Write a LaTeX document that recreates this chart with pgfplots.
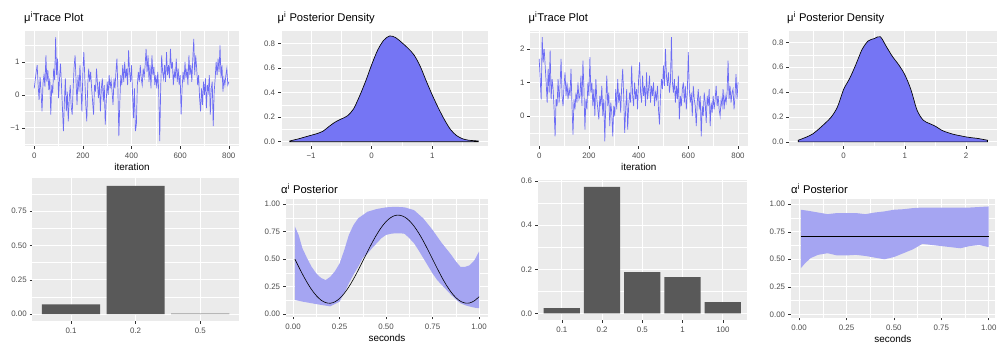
\documentclass[border=0pt]{standalone}
\usepackage{fontspec}
\setmainfont{Liberation Sans}
\usepackage{pgfplots}
\pgfplotsset{compat=1.18}

\definecolor{panelbg}{HTML}{EBEBEB}
\definecolor{tickgrey}{HTML}{333333}
\definecolor{labgrey}{HTML}{4D4D4D}
\definecolor{traceblue}{HTML}{6C6CF5}
\definecolor{densfill}{HTML}{7575F4}
\definecolor{bandfill}{HTML}{A5A5F2}
\definecolor{bargrey}{HTML}{595959}

\pgfplotsset{
  gg/.style={
    scale only axis, clip=true,
    /pgf/number format/assume math mode=true,
    axis background/.style={fill=panelbg},
    axis line style={draw=none},
    grid=both,
    major grid style={draw=white, line width=0.8pt},
    minor grid style={draw=white, line width=0.4pt},
    tick align=outside,
    xtick pos=left, ytick pos=left,
    major tick length=2.6pt, minor tick length=0pt,
    tick style={draw=tickgrey, line width=0.5pt},
    tick label style={font=\fontsize{7.9}{9}\selectfont, text=labgrey},
    xticklabel style={inner sep=0pt, yshift=-4.4pt},
    yticklabel style={inner sep=0pt, xshift=-2.8pt},
    xlabel style={at={(axis description cs:0.5,0)}, anchor=base, yshift=-25pt,
      inner sep=0pt, font=\fontsize{9.9}{11}\selectfont},
  },
}
\tikzset{ttl/.style={anchor=base west, inner sep=0pt, font=\fontsize{11.2}{13}\selectfont}}

\begin{document}
\begin{tikzpicture}[x=1pt,y=1pt]
\useasboundingbox (0,0) rectangle (997,343);

% ---------- chain 1: trace of mu ----------
\node[ttl] at (24,321.3) {μ\textsuperscript{i}Trace Plot};
\begin{axis}[gg, at={(25pt,197pt)}, width=214pt, height=115pt,
  xmin=-38, xmax=842, ymin=-1.55, ymax=1.94,
  xtick={0,200,400,600,800}, xticklabels={0,200,400,600,800},
  minor xtick={100,300,500,700},
  ytick={-1,0,1}, yticklabels={−1,0,1}, minor ytick={-1.5,-0.5,0.5,1.5},
  xlabel={iteration}]
\addplot[traceblue, line width=0.7pt] table[x expr=4*\coordindex, y=v, row sep=\\] {
v\\ 0.20\\ 0.45\\ 0.70\\ 0.90\\ 0.30\\ -0.15\\ 0.55\\ 0.10\\ -0.50\\ 0.35\\
0.60\\ 0.25\\ 1.20\\ 0.40\\ 0.75\\ 0.15\\ 0.50\\ -0.60\\ 0.30\\ 0.05\\
0.80\\ 0.45\\ 1.75\\ 0.60\\ 1.10\\ -0.10\\ 0.50\\ 0.95\\ 0.30\\ -0.40\\
-1.10\\ -0.20\\ 0.50\\ -0.50\\ 0.10\\ -0.80\\ -0.10\\ 0.30\\ -0.35\\ -0.60\\
0.20\\ 0.85\\ 1.20\\ 0.40\\ -0.30\\ 0.60\\ 0.10\\ 0.90\\ 0.20\\ -0.50\\
0.70\\ 1.30\\ 0.50\\ -0.30\\ -0.80\\ 0.30\\ 0.80\\ 0.40\\ 0.70\\ 0.20\\
-0.20\\ -0.60\\ 0.30\\ 0.10\\ 0.80\\ 0.35\\ -0.10\\ 0.40\\ -0.50\\ 0.20\\
0.50\\ -0.20\\ 0.30\\ -0.90\\ -0.20\\ 0.40\\ 0.00\\ 0.60\\ 0.20\\ 0.45\\
0.10\\ -0.30\\ 0.50\\ 0.20\\ 0.70\\ 1.10\\ 0.20\\ -1.25\\ -0.20\\ 0.60\\
0.30\\ 0.90\\ 0.40\\ 1.00\\ 0.50\\ 0.80\\ 0.30\\ 1.35\\ 0.70\\ 0.40\\
0.90\\ 0.10\\ -0.70\\ 0.20\\ -1.10\\ -0.90\\ 0.30\\ 0.70\\ 0.40\\ 0.90\\
0.50\\ 0.30\\ 0.80\\ 0.55\\ 0.90\\ 1.40\\ 0.70\\ 1.20\\ 0.40\\ 0.90\\
0.20\\ 1.20\\ 0.60\\ 0.85\\ 0.30\\ 0.60\\ 0.20\\ 0.70\\ 0.10\\ -1.40\\
0.20\\ 1.20\\ 0.70\\ 0.50\\ 0.90\\ 0.40\\ 1.30\\ 0.60\\ 0.90\\ 0.50\\
1.40\\ 0.80\\ 1.00\\ 0.30\\ 0.70\\ 0.50\\ 1.10\\ 0.40\\ 0.80\\ 0.30\\
0.60\\ -0.60\\ 0.20\\ 0.70\\ 0.40\\ 1.00\\ 0.50\\ 0.80\\ 0.30\\ 1.20\\
0.60\\ 0.90\\ 0.40\\ 1.10\\ 1.70\\ 0.60\\ 1.20\\ 0.80\\ 0.30\\ 0.60\\
-0.10\\ -0.50\\ 0.20\\ -0.30\\ 0.40\\ 0.00\\ 0.50\\ -0.40\\ 0.30\\ 0.10\\
0.60\\ -0.60\\ 0.20\\ 0.40\\ -0.95\\ 0.10\\ 0.50\\ 1.00\\ 0.60\\ 1.10\\
0.70\\ 1.50\\ 0.50\\ 0.90\\ 0.10\\ 0.50\\ 0.30\\ 0.60\\ 0.80\\ 0.30\\
0.40\\
};
\end{axis}

% ---------- chain 1: posterior density of mu ----------
\node[ttl] at (277.5,321.3) {μ\textsuperscript{i} Posterior Density};
\begin{axis}[gg, at={(280.7pt,197pt)}, width=207.3pt, height=115pt,
  xmin=-1.5, xmax=1.92, ymin=-0.035, ymax=0.9,
  xtick={-1,0,1}, xticklabels={−1,0,1}, minor xtick={-1.5,-0.5,0.5,1.5},
  ytick={0,0.2,0.4,0.6,0.8}, yticklabels={0.0,0.2,0.4,0.6,0.8},
  minor ytick={0.1,0.3,0.5,0.7}]
\addplot[fill=densfill, draw=black, line width=0.65pt, smooth] coordinates {
(-1.35,0.006) (-1.2,0.024) (-1.1,0.038) (-1.0,0.052) (-0.9,0.066) (-0.8,0.086)
(-0.7,0.125) (-0.6,0.160) (-0.5,0.185) (-0.4,0.210) (-0.3,0.265) (-0.2,0.370)
(-0.1,0.490) (0.0,0.625) (0.1,0.745) (0.2,0.825) (0.3,0.860) (0.4,0.845)
(0.5,0.805) (0.6,0.760) (0.7,0.705) (0.8,0.615) (0.9,0.495) (1.0,0.380)
(1.1,0.275) (1.2,0.180) (1.3,0.100) (1.4,0.050) (1.5,0.024) (1.6,0.012)
(1.76,0.006)} \closedcycle;
\end{axis}

% ---------- chain 2: trace of mu ----------
\node[ttl] at (528.5,321.3) {μ\textsuperscript{i}Trace Plot};
\begin{axis}[gg, at={(530pt,197pt)}, width=217.7pt, height=115pt,
  xmin=-37, xmax=839, ymin=-0.89, ymax=2.53,
  xtick={0,200,400,600,800}, xticklabels={0,200,400,600,800},
  minor xtick={100,300,500,700},
  ytick={0,1,2}, yticklabels={0,1,2}, minor ytick={-0.5,0.5,1.5,2.5},
  xlabel={iteration}]
\addplot[traceblue, line width=0.7pt] table[x expr=4*\coordindex, y=v, row sep=\\] {
v\\ 1.70\\ 1.10\\ 0.50\\ 2.35\\ 1.60\\ 2.00\\ 1.50\\ 1.00\\ 0.40\\ 1.40\\
0.70\\ 1.95\\ 0.50\\ 1.10\\ 0.80\\ 0.20\\ -0.60\\ 0.50\\ 0.30\\ 1.10\\
0.40\\ 0.90\\ 1.70\\ 0.60\\ 0.30\\ 0.90\\ 1.30\\ 0.60\\ 1.00\\ 0.50\\
0.80\\ 0.60\\ 1.40\\ 0.30\\ -0.55\\ 0.50\\ 0.20\\ 0.70\\ 0.40\\ 1.00\\
0.50\\ 0.60\\ 1.20\\ 0.30\\ 1.65\\ 0.80\\ -0.40\\ 0.50\\ 0.20\\ 1.00\\
0.60\\ 1.75\\ 0.70\\ 1.00\\ 0.30\\ 0.80\\ 0.00\\ 1.10\\ 0.50\\ 0.20\\
-0.10\\ 0.60\\ 0.30\\ 0.90\\ 0.00\\ 0.50\\ -0.75\\ 0.40\\ 1.20\\ 0.30\\
0.70\\ -0.30\\ 0.40\\ 0.10\\ -0.60\\ 0.30\\ 0.00\\ 0.80\\ 0.20\\ 1.10\\
0.40\\ 0.70\\ 0.10\\ 0.90\\ 1.40\\ 0.60\\ -0.50\\ 0.20\\ 0.80\\ -0.40\\
0.30\\ 0.70\\ 0.40\\ 1.50\\ 0.60\\ 0.30\\ 1.00\\ 0.50\\ 0.80\\ 0.20\\
1.10\\ 1.60\\ 0.70\\ 0.40\\ 1.20\\ 0.60\\ 0.90\\ 0.30\\ 1.30\\ 0.50\\
0.80\\ 1.20\\ 0.40\\ 0.90\\ 0.60\\ 1.00\\ 0.30\\ 0.70\\ 0.50\\ 0.90\\
0.20\\ -0.25\\ 0.60\\ 1.10\\ 0.80\\ 1.50\\ 0.90\\ 2.00\\ 1.20\\ 0.90\\
1.30\\ 0.70\\ 1.00\\ 2.35\\ 1.00\\ 0.70\\ 1.10\\ 0.40\\ 0.90\\ 0.50\\
1.20\\ -0.10\\ 0.60\\ 0.30\\ 0.80\\ 1.00\\ 0.40\\ 0.90\\ 0.20\\ 0.70\\
1.90\\ 0.80\\ 0.40\\ 0.70\\ 0.00\\ 0.90\\ 0.50\\ 0.30\\ -0.30\\ 0.40\\
0.80\\ 0.20\\ 0.60\\ -0.60\\ 0.30\\ 0.00\\ 0.70\\ 0.40\\ -0.20\\ 0.60\\
0.30\\ 0.80\\ -0.30\\ 0.40\\ 0.10\\ 0.60\\ 0.20\\ 0.50\\ 0.90\\ 0.30\\
0.60\\ 0.20\\ 0.00\\ 0.50\\ 0.30\\ 0.80\\ 0.20\\ 0.60\\ 0.40\\ 0.70\\
1.65\\ 0.50\\ 0.90\\ 0.40\\ 0.70\\ 0.80\\ 0.20\\ 0.60\\ 1.25\\ 0.50\\
1.00\\
};
\end{axis}

% ---------- chain 2: posterior density of mu ----------
\node[ttl] at (787,321.3) {μ\textsuperscript{i} Posterior Density};
\begin{axis}[gg, at={(789pt,197pt)}, width=207.7pt, height=115pt,
  xmin=-0.89, xmax=2.5, ymin=-0.033, ymax=0.891,
  xtick={0,1,2}, xticklabels={0,1,2}, minor xtick={-0.5,0.5,1.5},
  ytick={0,0.2,0.4,0.6,0.8}, yticklabels={0.0,0.2,0.4,0.6,0.8},
  minor ytick={0.1,0.3,0.5,0.7}]
\addplot[fill=densfill, draw=black, line width=0.65pt, smooth] coordinates {
(-0.74,0.013) (-0.6,0.040) (-0.5,0.065) (-0.4,0.105) (-0.3,0.150) (-0.2,0.200)
(-0.1,0.280) (0.0,0.420) (0.1,0.510) (0.2,0.620) (0.3,0.740) (0.4,0.810)
(0.5,0.830) (0.6,0.845) (0.7,0.765) (0.8,0.685) (0.9,0.620) (1.0,0.540)
(1.1,0.420) (1.2,0.255) (1.3,0.175) (1.4,0.148) (1.5,0.126) (1.6,0.094)
(1.7,0.075) (1.8,0.060) (1.9,0.050) (2.0,0.040) (2.1,0.033) (2.2,0.027)
(2.35,0.013)} \closedcycle;
\end{axis}

% ---------- chain 1: posterior probabilities ----------
\begin{axis}[gg, at={(32.3pt,22pt)}, width=206.7pt, height=142.7pt,
  xmin=0.4, xmax=3.6, ymin=-0.05, ymax=0.99,
  xtick={1,2,3}, xticklabels={0.1,0.2,0.5},
  ytick={0,0.25,0.5,0.75}, yticklabels={0.00,0.25,0.50,0.75},
  minor ytick={0.125,0.375,0.625,0.875}]
\addplot[ybar, bar width=0.9, bar shift=0pt, fill=bargrey, draw=none]
  coordinates {(1,0.071) (2,0.934) (3,0.003)};
\end{axis}

% ---------- chain 1: alpha posterior ----------
\node[ttl] at (281,149.6) {α\textsuperscript{i} Posterior};
\begin{axis}[gg, at={(285.7pt,26.3pt)}, width=202.6pt, height=117.4pt,
  xmin=-0.0395, xmax=1.0495, ymin=-0.022, ymax=1.043,
  xtick={0,0.25,0.5,0.75,1}, xticklabels={0.00,0.25,0.50,0.75,1.00},
  minor xtick={0.125,0.375,0.625,0.875},
  ytick={0,0.25,0.5,0.75,1}, yticklabels={0.00,0.25,0.50,0.75,1.00},
  minor ytick={0.125,0.375,0.625,0.875},
  xlabel={seconds}]
% credible band: upper edge left to right, then lower edge right to left
\addplot[fill=bandfill, draw=none] coordinates {
(0.01,0.795) (0.03,0.72) (0.05,0.60) (0.075,0.51) (0.1,0.43) (0.125,0.37)
(0.15,0.33) (0.175,0.31) (0.2,0.34) (0.225,0.39) (0.25,0.46) (0.275,0.58)
(0.3,0.72) (0.325,0.81) (0.35,0.87) (0.4,0.93) (0.45,0.955) (0.5,0.97)
(0.55,0.975) (0.6,0.97) (0.65,0.945) (0.7,0.87) (0.75,0.765) (0.8,0.645)
(0.85,0.54) (0.875,0.48) (0.9,0.43) (0.925,0.43) (0.95,0.445) (0.975,0.49)
(1.0,0.57)
(1.0,0.055) (0.975,0.06) (0.95,0.07) (0.925,0.082) (0.9,0.10) (0.875,0.135)
(0.85,0.175) (0.825,0.22) (0.8,0.265) (0.775,0.31) (0.75,0.37) (0.725,0.44)
(0.7,0.51) (0.675,0.58) (0.65,0.645) (0.625,0.69) (0.6,0.73) (0.575,0.735)
(0.55,0.735) (0.525,0.73) (0.5,0.72) (0.475,0.69) (0.45,0.645) (0.425,0.60)
(0.4,0.55) (0.375,0.51) (0.35,0.43) (0.325,0.36) (0.3,0.28) (0.275,0.19)
(0.25,0.115) (0.2,0.072) (0.15,0.085) (0.1,0.10) (0.05,0.115) (0.01,0.13)
} -- cycle;
\addplot[black, line width=0.6pt, smooth] coordinates {
(0.01,0.500) (0.025,0.449) (0.05,0.366) (0.075,0.290) (0.1,0.223) (0.125,0.169)
(0.15,0.129) (0.175,0.106) (0.2,0.100) (0.225,0.113) (0.25,0.143) (0.275,0.189)
(0.3,0.249) (0.325,0.320) (0.35,0.399) (0.375,0.483) (0.4,0.567) (0.425,0.649)
(0.45,0.724) (0.475,0.789) (0.5,0.841) (0.525,0.877) (0.55,0.897) (0.575,0.898)
(0.6,0.882) (0.625,0.849) (0.65,0.800) (0.675,0.738) (0.7,0.665) (0.725,0.584)
(0.75,0.500) (0.775,0.416) (0.8,0.335) (0.825,0.262) (0.85,0.200) (0.875,0.151)
(0.9,0.118) (0.925,0.102) (0.95,0.103) (0.975,0.123) (1.0,0.159)};
\end{axis}

% ---------- chain 2: posterior probabilities ----------
\begin{axis}[gg, at={(537.7pt,23pt)}, width=209.3pt, height=140pt,
  xmin=0.4, xmax=5.6, ymin=-0.03, ymax=0.605,
  xtick={1,2,3,4,5}, xticklabels={0.1,0.2,0.5,1,100},
  ytick={0,0.2,0.4,0.6}, yticklabels={0.0,0.2,0.4,0.6},
  minor ytick={0.1,0.3,0.5}]
\addplot[ybar, bar width=0.9, bar shift=0pt, fill=bargrey, draw=none]
  coordinates {(1,0.024) (2,0.574) (3,0.187) (4,0.165) (5,0.051)};
\end{axis}

% ---------- chain 2: alpha posterior ----------
\node[ttl] at (791,149.6) {α\textsuperscript{i} Posterior};
\begin{axis}[gg, at={(790.7pt,25.3pt)}, width=204.3pt, height=118.4pt,
  xmin=-0.044, xmax=1.033, ymin=-0.031, ymax=1.045,
  xtick={0,0.25,0.5,0.75,1}, xticklabels={0.00,0.25,0.50,0.75,1.00},
  minor xtick={0.125,0.375,0.625,0.875},
  ytick={0,0.25,0.5,0.75,1}, yticklabels={0.00,0.25,0.50,0.75,1.00},
  minor ytick={0.125,0.375,0.625,0.875},
  xlabel={seconds}]
% credible band: upper edge left to right, then lower edge right to left
\addplot[fill=bandfill, draw=none] coordinates {
(0.01,0.95) (0.05,0.94) (0.1,0.925) (0.15,0.91) (0.2,0.92) (0.25,0.92)
(0.3,0.92) (0.35,0.91) (0.4,0.925) (0.45,0.935) (0.5,0.95) (0.55,0.955)
(0.6,0.965) (0.65,0.97) (0.7,0.97) (0.8,0.97) (0.9,0.97) (1.0,0.98)
(1.0,0.61) (0.95,0.63) (0.9,0.62) (0.85,0.60) (0.8,0.61) (0.75,0.62)
(0.7,0.63) (0.65,0.64) (0.6,0.59) (0.55,0.555) (0.5,0.52) (0.45,0.50)
(0.4,0.515) (0.35,0.53) (0.3,0.54) (0.25,0.535) (0.2,0.535) (0.15,0.555)
(0.1,0.54) (0.06,0.51) (0.03,0.46) (0.01,0.42)
} -- cycle;
\addplot[black, line width=0.6pt] coordinates {(0.01,0.706) (1.0,0.706)};
\end{axis}
\end{tikzpicture}
\end{document}
